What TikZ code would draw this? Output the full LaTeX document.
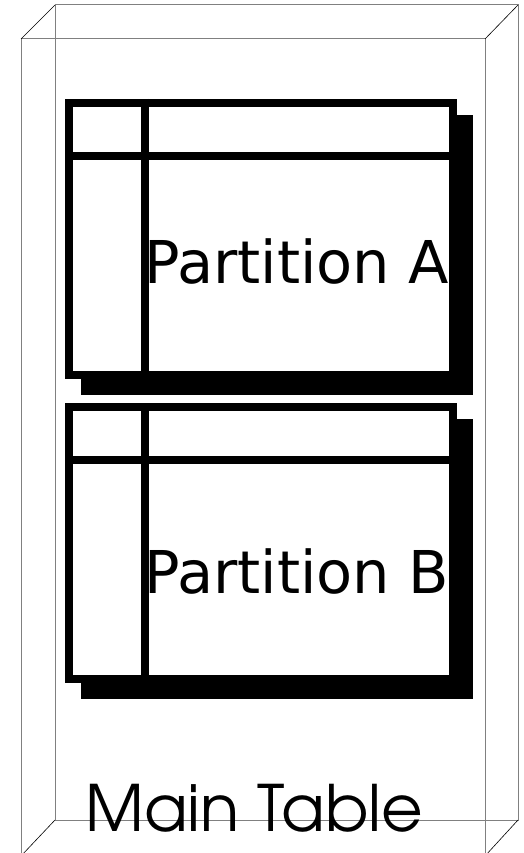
\documentclass[tikz,border=0pt]{standalone}
\usepackage{fontspec}
\setmainfont{DejaVu Sans}
\newfontfamily\gothicfont{TeX Gyre Adventor}
\usetikzlibrary{backgrounds}

\begin{document}
\begin{tikzpicture}[x=1pt, y=-1pt,
  edge/.style={draw=black!50, line width=1pt},
  slant/.style={draw=black, line width=0.6pt},
  part/.style={draw, fill=white, line width=8pt, minimum width=384pt,
    minimum height=272pt, inner sep=0pt},
  grid/.style={line width=8pt},
  partlabel/.style={font=\fontsize{59}{62}\selectfont, inner sep=0pt,
    anchor=base west},
]
  \useasboundingbox (0,0) rectangle (524,853);

  % Main table drawn as an open box
  \coordinate (fnw) at (21,39);  \coordinate (fne) at (485,39);
  \coordinate (fsw) at (21,856); \coordinate (fse) at (485,856);
  \coordinate (bnw) at (55,5);   \coordinate (bne) at (518,5);
  \coordinate (bsw) at (55,820); \coordinate (bse) at (518,820);
  \draw[edge] (fsw) -- (fnw) -- (fne) -- (fse);
  \draw[edge] (bnw) -- (bne) -- (bse) -- (bsw) -- cycle;
  \foreach \c in {nw, ne, sw, se}
    \draw[slant] (f\c) -- (b\c);

  % Partitions
  \foreach \p/\y/\b in {A/239/283, B/543/593} {
    \node[part] (p\p) at (261,\y) {};
    \begin{scope}[on background layer]
      \fill ([shift={(16,16)}]p\p.north west) rectangle ([shift={(16,16)}]p\p.south east);
    \end{scope}
    \draw[grid] ([xshift=79.5pt]p\p.north west) -- ([xshift=79.5pt]p\p.south west);
    \draw[grid] ([yshift=-57pt]p\p.north west) -- ([yshift=-57pt]p\p.north east);
    \node[partlabel] (t\p) at (144,\b) {Partition \p};
  }

  \node[font=\gothicfont\fontsize{64}{67}\selectfont, anchor=base west,
    inner sep=0pt] (main) at (85,831) {Main Table};
\end{tikzpicture}
\end{document}
